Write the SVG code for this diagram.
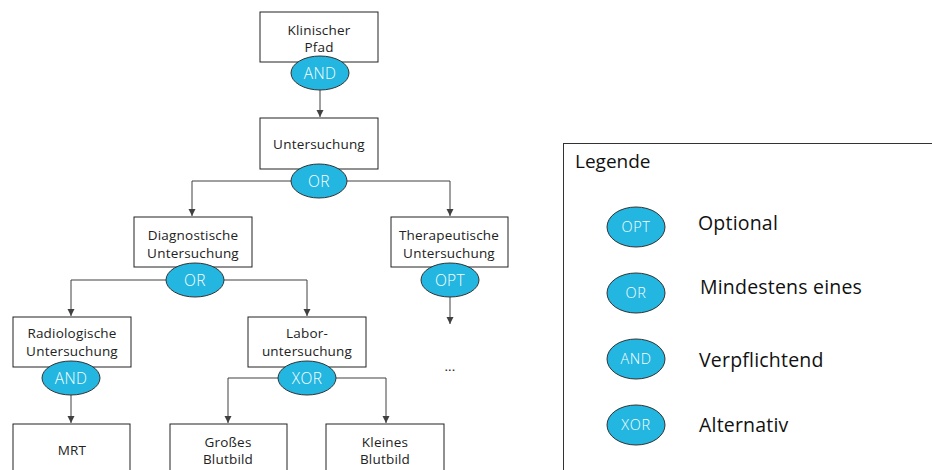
<svg xmlns="http://www.w3.org/2000/svg" width="932" height="470" viewBox="0 0 932 470">
<defs>
<style>
.box{fill:#fff;stroke:#222;stroke-width:1}
.t{font-family:"Open Sans","Liberation Sans",sans-serif;font-size:13.5px;letter-spacing:0.2px;fill:#222;text-anchor:middle}
.g{fill:#22b6e1;stroke:#333;stroke-width:1}
.gt{font-family:"Open Sans","Liberation Sans",sans-serif;font-size:15.5px;fill:#fff;text-anchor:middle;font-weight:300;letter-spacing:0.4px}
.lgt{font-family:"Open Sans","Liberation Sans",sans-serif;font-size:14.5px;fill:#fff;text-anchor:middle;font-weight:300;letter-spacing:0.6px}
.c{fill:none;stroke:#404040;stroke-width:1}
.lt{font-family:"Open Sans","Liberation Sans",sans-serif;font-size:19.5px;fill:#111;letter-spacing:0.2px}
</style>
<marker id="ah" markerWidth="8" markerHeight="8" refX="7" refY="4" orient="auto" markerUnits="userSpaceOnUse">
<path d="M0,0.5 L7,4 L0,7.5 Z" fill="#404040"/>
</marker>
</defs>
<rect width="932" height="470" fill="#fff"/>
<g id="connectors">
<path class="c" d="M320,90 V117" marker-end="url(#ah)"/>
<path class="c" d="M291,181 H192 V216" marker-end="url(#ah)"/>
<path class="c" d="M347,181 H450 V216" marker-end="url(#ah)"/>
<path class="c" d="M166,280 H71 V316" marker-end="url(#ah)"/>
<path class="c" d="M224,280 H307 V316" marker-end="url(#ah)"/>
<path class="c" d="M450,297 V324" marker-end="url(#ah)"/>
<path class="c" d="M71,395 V423" marker-end="url(#ah)"/>
<path class="c" d="M278,378 H228 V423" marker-end="url(#ah)"/>
<path class="c" d="M336,378 H386 V423" marker-end="url(#ah)"/>
</g>
<g id="klinischer-pfad">
<rect class="box" x="260" y="12" width="118" height="50"/>
<text class="t" x="319" y="35">Klinischer</text>
<text class="t" x="319" y="52">Pfad</text>
<ellipse class="g" cx="320" cy="73" rx="29" ry="17"/>
<text class="gt" x="320" y="79">AND</text>
</g>
<g id="untersuchung">
<rect class="box" x="260" y="118" width="118" height="51"/>
<text class="t" x="319" y="149">Untersuchung</text>
<ellipse class="g" cx="319" cy="181" rx="28" ry="17"/>
<text class="gt" x="319" y="187">OR</text>
</g>
<g id="diagnostische-untersuchung">
<rect class="box" x="134" y="217" width="118" height="50"/>
<text class="t" x="193" y="240">Diagnostische</text>
<text class="t" x="193" y="258">Untersuchung</text>
<ellipse class="g" cx="195" cy="280" rx="29" ry="17"/>
<text class="gt" x="195" y="286">OR</text>
</g>
<g id="therapeutische-untersuchung">
<rect class="box" x="391" y="217" width="117" height="50"/>
<text class="t" x="449" y="240">Therapeutische</text>
<text class="t" x="449" y="258">Untersuchung</text>
<ellipse class="g" cx="450" cy="280" rx="29" ry="17"/>
<text class="gt" x="450" y="286">OPT</text>
</g>
<g id="ellipsis">
<text class="t" x="450" y="371">...</text>
</g>
<g id="radiologische-untersuchung">
<rect class="box" x="13" y="317" width="118" height="50"/>
<text class="t" x="72" y="338">Radiologische</text>
<text class="t" x="72" y="356">Untersuchung</text>
<ellipse class="g" cx="71" cy="378" rx="29" ry="17"/>
<text class="gt" x="71" y="384">AND</text>
</g>
<g id="laboruntersuchung">
<rect class="box" x="248" y="317" width="118" height="50"/>
<text class="t" x="307" y="338">Labor-</text>
<text class="t" x="307" y="356">untersuchung</text>
<ellipse class="g" cx="307" cy="378" rx="29" ry="17"/>
<text class="gt" x="307" y="384">XOR</text>
</g>
<g id="mrt">
<rect class="box" x="13" y="424" width="117" height="60"/>
<text class="t" x="72" y="455">MRT</text>
</g>
<g id="grosses-blutbild">
<rect class="box" x="170" y="424" width="117" height="60"/>
<text class="t" x="228" y="447">Großes</text>
<text class="t" x="228" y="464">Blutbild</text>
</g>
<g id="kleines-blutbild">
<rect class="box" x="326" y="424" width="118" height="60"/>
<text class="t" x="385" y="447">Kleines</text>
<text class="t" x="385" y="464">Blutbild</text>
</g>
<g id="legende">
<rect x="563.5" y="143.5" width="400" height="340" fill="#fff" stroke="#333" stroke-width="1"/>
<text class="lt" x="575" y="168" style="font-size:19px;letter-spacing:0">Legende</text>
<ellipse class="g" cx="636" cy="227" rx="29" ry="20"/>
<text class="lgt" x="636" y="232">OPT</text>
<text class="lt" x="698" y="230">Optional</text>
<ellipse class="g" cx="636" cy="293" rx="29" ry="20"/>
<text class="lgt" x="636" y="298">OR</text>
<text class="lt" x="700" y="294">Mindestens eines</text>
<ellipse class="g" cx="636" cy="359" rx="29" ry="20"/>
<text class="lgt" x="636" y="364">AND</text>
<text class="lt" x="699" y="367">Verpflichtend</text>
<ellipse class="g" cx="636" cy="425" rx="29" ry="20"/>
<text class="lgt" x="636" y="430">XOR</text>
<text class="lt" x="699" y="432">Alternativ</text>
</g>
</svg>
